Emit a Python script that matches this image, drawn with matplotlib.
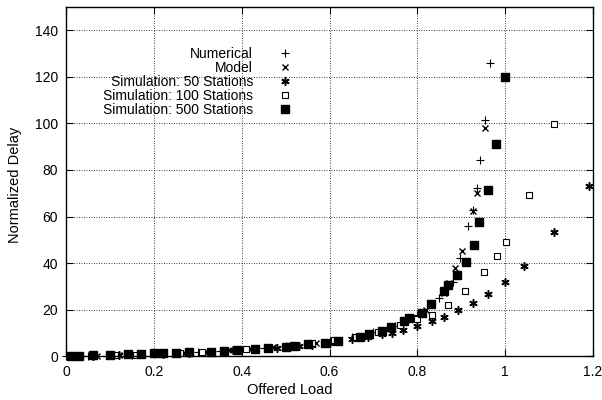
import matplotlib
matplotlib.use("Agg")
import matplotlib.pyplot as plt

# Numerical results
num_x = [0.0, 0.05, 0.1, 0.15, 0.2, 0.25, 0.3, 0.35, 0.4, 0.45, 0.5, 0.55, 0.6, 0.65,
         0.7, 0.75, 0.8, 0.85, 0.88, 0.897, 0.916, 0.927, 0.935, 0.943, 0.954, 0.965]
num_y = [0.0, 0.2, 0.5, 0.8, 1.1, 1.5, 1.9, 2.4, 2.9, 3.6, 4.4, 5.4, 6.6, 8.2,
         10.3, 13.2, 17.6, 24.9, 32.0, 42.4, 56.1, 63.0, 72.3, 84.2, 101.4, 126.1]

# Model
mod_x = [0.02, 0.07, 0.12, 0.17, 0.22, 0.27, 0.32, 0.37, 0.42, 0.47, 0.52, 0.57, 0.62,
         0.67, 0.72, 0.77, 0.82, 0.86, 0.871, 0.886, 0.901, 0.927, 0.935, 0.954]
mod_y = [0.1, 0.3, 0.6, 0.9, 1.2, 1.6, 2.1, 2.6, 3.2, 3.9, 4.8, 5.8, 7.2,
         8.9, 11.3, 14.7, 20.0, 27.0, 31.5, 37.9, 45.1, 62.3, 70.2, 98.1]

# Simulation: 50 stations
s50_x = [0.02, 0.06, 0.12, 0.17, 0.22, 0.28, 0.33, 0.38, 0.43, 0.48, 0.53, 0.56, 0.601, 0.65,
         0.688, 0.72, 0.742, 0.768, 0.8, 0.833, 0.861, 0.893, 0.926, 0.962, 1.0, 1.043, 1.112, 1.19]
s50_y = [0.1, 0.3, 0.6, 0.9, 1.2, 1.6, 2.1, 2.6, 3.2, 3.8, 4.4, 5.0, 5.7, 7.3,
         8.5, 9.5, 10.0, 11.4, 13.1, 15.0, 17.1, 19.7, 22.7, 26.7, 31.9, 38.9, 53.2, 73.3]

# Simulation: 100 stations
s100_x = [0.02, 0.06, 0.11, 0.16, 0.21, 0.26, 0.31, 0.36, 0.41, 0.46, 0.51, 0.56, 0.61, 0.66,
          0.71, 0.76, 0.8, 0.833, 0.869, 0.909, 0.952, 0.981, 1.001, 1.054, 1.112]
s100_y = [0.1, 0.3, 0.5, 0.8, 1.2, 1.5, 2.0, 2.5, 3.0, 3.7, 4.6, 5.6, 6.9, 8.4,
          10.6, 13.5, 16.0, 17.8, 21.9, 27.9, 36.0, 43.2, 49.1, 69.2, 99.6]

# Simulation: 500 stations
s500_x = [0.01, 0.03, 0.06, 0.1, 0.14, 0.17, 0.2, 0.22, 0.25, 0.28, 0.33, 0.36, 0.39, 0.43,
          0.46, 0.5, 0.52, 0.55, 0.59, 0.62, 0.67, 0.69, 0.72, 0.74, 0.77, 0.78, 0.81, 0.83,
          0.86, 0.87, 0.89, 0.91, 0.93, 0.94, 0.96, 0.98, 1.0]
s500_y = [0.1, 0.3, 0.5, 0.7, 0.9, 1.1, 1.3, 1.4, 1.6, 1.8, 2.1, 2.3, 2.6, 3.0,
          3.4, 4.0, 4.5, 5.2, 5.9, 6.8, 8.5, 9.7, 11.1, 12.5, 15.0, 16.4, 18.8, 22.6,
          27.9, 30.8, 35.0, 40.5, 48.0, 57.7, 71.3, 91.0, 120.0]

x_ticks = [0, 0.2, 0.4, 0.6, 0.8, 1.0, 1.2]
x_labels = ["0", "0.2", "0.4", "0.6", "0.8", "1", "1.2"]
y_ticks = [0, 20, 40, 60, 80, 100, 120, 140]

plt.rcParams['font.family'] = ['Liberation Sans', 'DejaVu Sans']

fig = plt.figure(figsize=(6.02, 4.0), dpi=100)
ax = fig.add_axes([0.11, 0.109, 0.875, 0.874])

ax.plot(num_x, num_y, linestyle='none', marker='+', ms=6, mew=0.8, color='black',
        label='Numerical', clip_on=False)
ax.plot(mod_x, mod_y, linestyle='none', marker='x', ms=5, mew=1.0, color='black',
        label='Model', clip_on=False)
ax.plot(s50_x, s50_y, linestyle='none', marker=(6, 2, 0), ms=6, mew=1.1, color='black',
        label='Simulation: 50 Stations', clip_on=False)
ax.plot(s100_x, s100_y, linestyle='none', marker='s', ms=5, mew=0.8, mfc='white',
        color='black', label='Simulation: 100 Stations', clip_on=False)
ax.plot(s500_x, s500_y, linestyle='none', marker='s', ms=5.5, color='black',
        label='Simulation: 500 Stations', clip_on=False)

ax.set_xlim(0, 1.2)
ax.set_ylim(0, 150)
ax.set_xticks(x_ticks)
ax.set_xticklabels(x_labels)
ax.set_yticks(y_ticks)
ax.tick_params(direction='in', length=5, width=0.8, top=True, right=True,
               labelsize=10, pad=6)
ax.grid(True, color='black', linestyle=(0, (1, 2)), linewidth=0.6)
ax.set_axisbelow(True)
for s in ax.spines.values():
    s.set_linewidth(1.0)

ax.set_xlabel('Offered Load', fontsize=10.5)
ax.xaxis.set_label_coords(0.425, -0.075)
ax.set_ylabel('Normalized Delay', fontsize=10.5)
ax.yaxis.set_label_coords(-0.083, 0.49)

ax.legend(loc='upper right', bbox_to_anchor=(292 / 602, 1 - 47 / 400),
          bbox_transform=fig.transFigure, frameon=False, markerfirst=False,
          fontsize=10, labelspacing=0.0, handlelength=1.0, handletextpad=1.8,
          borderpad=0, borderaxespad=0)
for t in ax.get_legend().get_texts():
    t.set_ha('right')

fig.savefig('out.png', dpi=100)
